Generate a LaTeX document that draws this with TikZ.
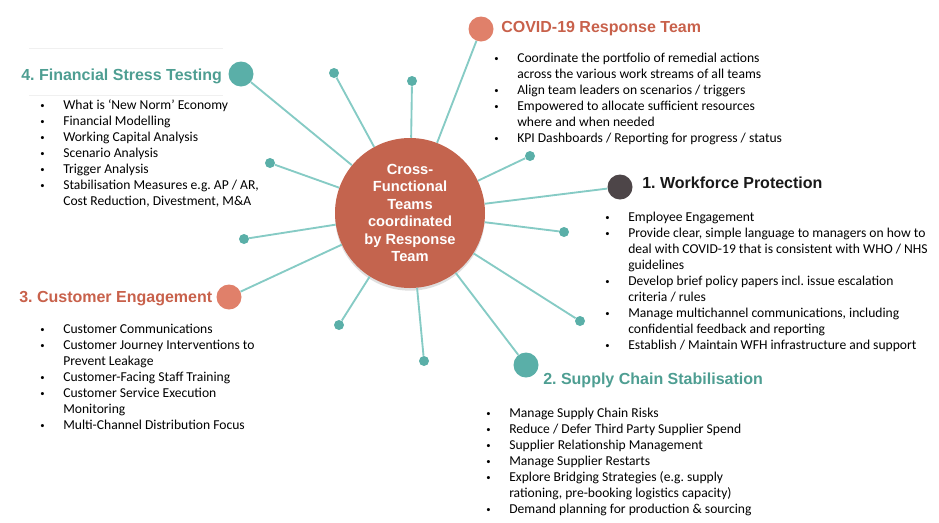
\documentclass[tikz,border=0pt]{standalone}
\usepackage{fontspec}
\setmainfont{Carlito}
\newfontfamily\headfont{Liberation Sans}
\usepackage{array}
\usetikzlibrary{shadows}
\frenchspacing

\definecolor{hubred}{HTML}{C4644E}
\definecolor{dotorange}{HTML}{E0806A}
\definecolor{dotteal}{HTML}{5AAFA8}
\definecolor{spoketeal}{HTML}{86CBC5}
\definecolor{dotgrey}{HTML}{4D4548}
\definecolor{headteal}{HTML}{4E9E92}
\definecolor{headred}{HTML}{C8614B}

\tikzset{
  bigdot/.style={circle, minimum size=18.75pt, inner sep=0pt},
  smalldot/.style={circle, fill=dotteal, minimum size=7.5pt, inner sep=0pt},
  spoke/.style={draw=spoketeal, line width=1.4pt},
  heading/.style={anchor=base west, inner sep=0pt, font=\headfont\bfseries\fontsize{12}{14}\selectfont},
  points/.style={anchor=base west, inner sep=0pt, font=\fontsize{10.2}{12}\selectfont}
}

\newcommand{\pt}{\raisebox{0.6pt}{\fontsize{6.5}{6.5}\selectfont\textbullet}}
\newenvironment{plist}{\begin{tabular}[t]{@{}p{17.25pt}@{}l@{}}}{\end{tabular}}

\begin{document}
\begin{tikzpicture}[x=0.75pt, y=-0.75pt]

\useasboundingbox (0,0) rectangle (939,522);

    %faint rules round heading 4
    \draw[black!6, line width=0.5pt] (29,48) -- (223,48);
    \draw[black!6, line width=0.5pt] (29,95) -- (223,95);

    %hub
    \node[circle, fill=hubred, minimum size=112.5pt, inner sep=0pt, align=center,
          text=white, font=\headfont\bfseries\fontsize{11}{13.1}\selectfont,
          drop shadow={shadow xshift=0pt, shadow yshift=-2pt, opacity=0.25}]
          (hub) at (410,213) {Cross-\\Functional\\Teams\\coordinated\\by Response\\Team};

    %team dots
    \node[bigdot, fill=dotorange] (covid) at (481,29) {};
    \node[bigdot, fill=dotgrey] (work) at (620,187) {};
    \node[bigdot, fill=dotteal] (supply) at (526,365) {};
    \node[bigdot, fill=dotorange] (cust) at (229,297) {};
    \node[bigdot, fill=dotteal] (fin) at (241,74) {};

    %small dots
    \foreach \n/\x/\y in {a/334/73, b/412/81, c/270/163, d/244/239, e/339/325,
                          f/424/361, g/530/156, h/564/232, i/580/321}
        \node[smalldot] (\n) at (\x,\y) {};

    %spokes
    \foreach \n in {covid,work,supply,cust,fin,a,b,c,d,e,f,g,h,i}
        \draw[spoke] (hub) -- (\n);

    %headings
    \node[heading, text=headred] (covidhead) at (501,32) {COVID-19 Response Team};
    \node[heading, text=black!90] (workhead) at (642,188) {1. Workforce Protection};
    \node[heading, text=headteal] (supplyhead) at (543,384) {2. Supply Chain Stabilisation};
    \node[heading, text=headred] (custhead) at (19,302) {3. Customer Engagement};
    \node[heading, text=headteal] (finhead) at (21,80) {4. Financial Stress Testing};

    %bullet lists
    \node[points] (covidlist) at (494,62.5) {\begin{plist}
        \pt & Coordinate the portfolio of remedial actions\\
            & across the various work streams of all teams\\
        \pt & Align team leaders on scenarios / triggers\\
        \pt & Empowered to allocate sufficient resources\\
            & where and when needed\\
        \pt & KPI Dashboards / Reporting for progress / status
    \end{plist}};

    \node[points] (worklist) at (605,221) {\begin{plist}
        \pt & Employee Engagement\\
        \pt & Provide clear, simple language to managers on how to\\
            & deal with COVID-19 that is consistent with WHO / NHS\\
            & guidelines\\
        \pt & Develop brief policy papers incl. issue escalation\\
            & criteria / rules\\
        \pt & Manage multichannel communications, including\\
            & confidential feedback and reporting\\
        \pt & Establish / Maintain WFH infrastructure and support
    \end{plist}};

    \node[points] (supplylist) at (486,417) {\begin{plist}
        \pt & Manage Supply Chain Risks\\
        \pt & Reduce / Defer Third Party Supplier Spend\\
        \pt & Supplier Relationship Management\\
        \pt & Manage Supplier Restarts\\
        \pt & Explore Bridging Strategies (e.g. supply\\
            & rationing, pre-booking logistics capacity)\\
        \pt & Demand planning for production \& sourcing
    \end{plist}};

    \node[points] (custlist) at (40,333) {\begin{plist}
        \pt & Customer Communications\\
        \pt & Customer Journey Interventions to\\
            & Prevent Leakage\\
        \pt & Customer-Facing Staff Training\\
        \pt & Customer Service Execution\\
            & Monitoring\\
        \pt & Multi-Channel Distribution Focus
    \end{plist}};

    \node[points] (finlist) at (40,109.5) {\begin{plist}
        \pt & What is ‘New Norm’ Economy\\
        \pt & Financial Modelling\\
        \pt & Working Capital Analysis\\
        \pt & Scenario Analysis\\
        \pt & Trigger Analysis\\
        \pt & Stabilisation Measures e.g. AP / AR,\\
            & Cost Reduction, Divestment, M\&A
    \end{plist}};

\end{tikzpicture}
\end{document}
